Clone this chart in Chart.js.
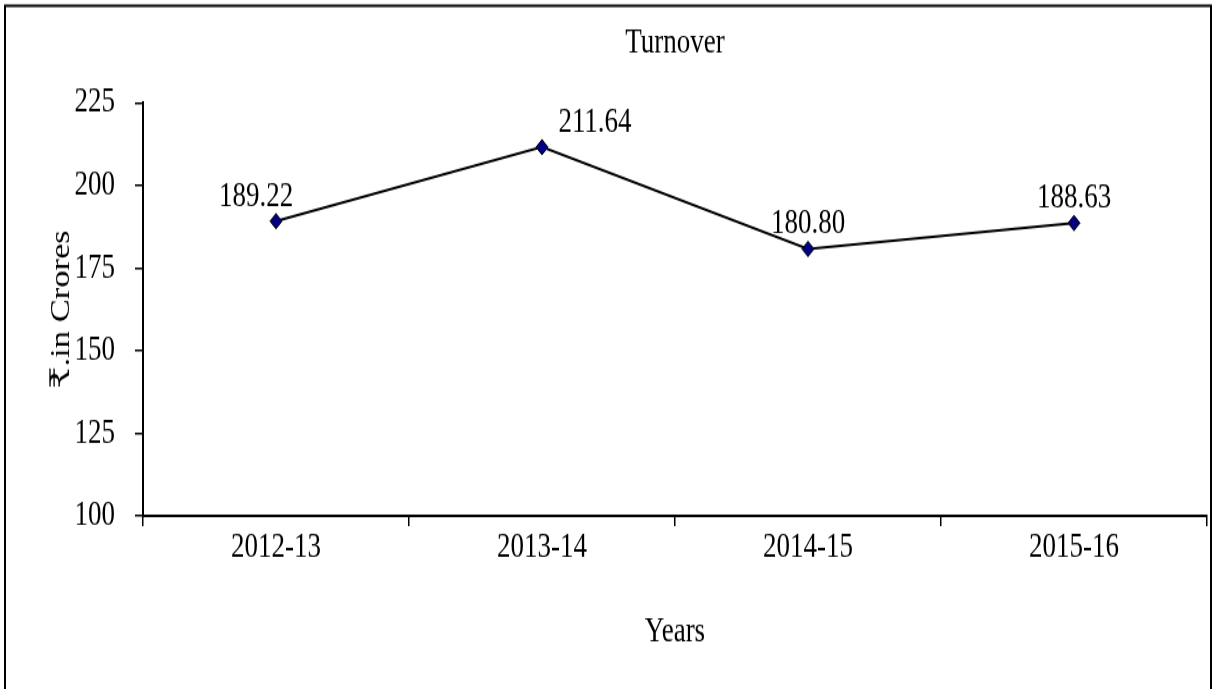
<!DOCTYPE html>
<html>
<head>
<meta charset="utf-8">
<script src="https://cdn.jsdelivr.net/npm/chart.js@4"></script>
<style>
  html, body { margin: 0; padding: 0; background: #fff; }
  body { width: 1214px; height: 689px; }
  #wrap { width: 1214px; height: 538px; transform: scale(1, 1.28); transform-origin: 0 0; }
</style>
</head>
<body>
<div id="wrap"><canvas id="turnover" width="1214" height="538"></canvas></div>
<script>
"use strict";
// Turnover, Rs. in crores
const years = ['2012-13', '2013-14', '2014-15', '2015-16'];
const turnover = [189.22, 211.64, 180.80, 188.63];
const yTicks = [100, 125, 150, 175, 200, 225];

const serif = "'Liberation Serif', 'Times New Roman', 'DejaVu Serif', serif";
Chart.defaults.color = '#000';
Chart.defaults.font.family = serif;

// value labels above each point (no datalabels plugin offline)
const valueLabels = {
  id: 'valueLabels',
  afterDatasetsDraw(chart, args, opts) {
    const ctx = chart.ctx;
    const meta = chart.getDatasetMeta(0);
    ctx.save();
    ctx.font = '27px ' + serif;
    ctx.fillStyle = '#000';
    ctx.textAlign = 'center';
    ctx.textBaseline = 'alphabetic';
    meta.data.forEach((pt, i) => {
      ctx.fillText(turnover[i].toFixed(2), pt.x + opts.shiftX[i], pt.y - opts.gap);
    });
    ctx.restore();
  }
};

// white page with the outer frame
const frame = {
  id: 'frame',
  beforeDraw(chart) {
    const ctx = chart.ctx;
    ctx.save();
    ctx.fillStyle = '#fff';
    ctx.fillRect(0, 0, chart.width, chart.height);
    ctx.restore();
  },
  afterDraw(chart) {
    const ctx = chart.ctx;
    ctx.save();
    ctx.strokeStyle = '#000';
    ctx.lineWidth = 2;
    ctx.strokeRect(5, 4.5, 1206, 600);
    ctx.restore();
  }
};

const ctx = document.getElementById('turnover').getContext('2d');
new Chart(ctx, {
  type: 'line',
  data: {
    labels: years,
    datasets: [{
      label: 'Turnover',
      data: turnover,
      borderColor: '#000',
      borderWidth: 2,
      pointStyle: 'rectRot',
      pointRadius: 6,
      pointBackgroundColor: '#000080',
      pointBorderColor: '#000',
      pointBorderWidth: 1,
      tension: 0
    }]
  },
  options: {
    responsive: false,
    animation: false,
    events: [],
    layout: { padding: { left: 0, right: 7, top: 0, bottom: 28 } },
    plugins: {
      legend: { display: false },
      tooltip: { enabled: false },
      title: {
        display: true,
        text: 'Turnover',
        fullSize: false,
        color: '#000',
        font: { size: 27, weight: 'normal', family: serif },
        padding: { top: 18, bottom: 30 }
      },
      valueLabels: { shiftX: [-20, 53, 0, 0], gap: 12 }
    },
    scales: {
      x: {
        offset: true,
        afterFit: s => { s.height = 107; },
        grid: { offset: true, drawOnChartArea: false, drawTicks: true, tickLength: 8, color: '#000', lineWidth: 1.5 },
        border: { display: true, color: '#000', width: 2 },
        ticks: { padding: 1, font: { size: 27, family: serif }, color: '#000', maxRotation: 0 },
        title: { display: true, text: 'Years', color: '#000', font: { size: 27, family: serif }, padding: { top: 0, bottom: 0 } }
      },
      y: {
        min: yTicks[0],
        max: yTicks[yTicks.length - 1],
        afterFit: s => { s.width = 143; },
        afterBuildTicks: s => { s.ticks = yTicks.map(v => ({ value: v })); },
        grid: { drawOnChartArea: false, drawTicks: true, tickLength: 8, color: '#000', lineWidth: 1.5 },
        border: { display: true, color: '#000', width: 2 },
        ticks: { padding: 20, font: { size: 27, family: serif }, color: '#000' },
        title: { display: true, text: '₹.in Crores', color: '#000', font: { size: 27, family: serif }, padding: { top: 46, bottom: 0 } }
      }
    }
  },
  plugins: [valueLabels, frame]
});
</script>
</body>
</html>
